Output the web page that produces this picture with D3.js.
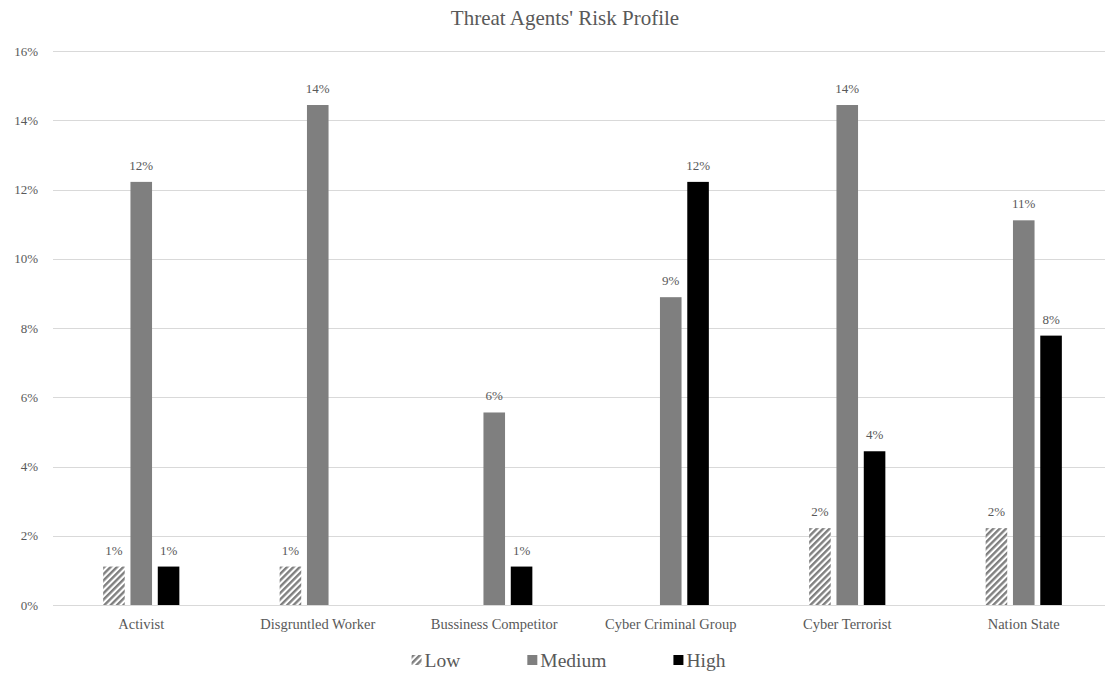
<!DOCTYPE html>
<html>
<head>
<meta charset="utf-8">
<script src="https://cdn.jsdelivr.net/npm/d3@7"></script>
<style>
  html, body { margin: 0; padding: 0; background: #fff; }
  svg { display: block; font-family: "Liberation Serif", "Times New Roman", serif; }
</style>
</head>
<body>
<svg id="chart" width="1105" height="673"></svg>
<script>
// Threat agents and the share of risk at each level
const categories = ["Activist", "Disgruntled Worker", "Bussiness Competitor", "Cyber Criminal Group", "Cyber Terrorist", "Nation State"];
const seriesNames = ["Low", "Medium", "High"];
const lowValues    = [1.11, 1.11, null, null, 2.22, 2.22];
const mediumValues = [12.22, 14.44, 5.56, 8.89, 14.44, 11.11];
const highValues   = [1.11, null, 1.11, 12.22, 4.44, 7.78];
const yTicks = [0, 2, 4, 6, 8, 10, 12, 14, 16];

const seriesValues = [lowValues, mediumValues, highValues];

const svg = d3.select("#chart");
const W = 1105, H = 673;
const textColor = "#595959";
const gridColor = "#d9d9d9";

const margin = { left: 53, right: -7, top: 51, bottom: 68 };
const plotLeft = margin.left, plotRight = W - margin.right;
const plotTop = margin.top, plotBottom = H - margin.bottom;

// Hatched fill for the Low series
const defs = svg.append("defs");
const pat = defs.append("pattern")
  .attr("id", "hatchLow")
  .attr("patternUnits", "userSpaceOnUse")
  .attr("width", 4.5).attr("height", 4.5)
  .attr("patternTransform", "rotate(45)");
pat.append("rect").attr("width", 4.5).attr("height", 4.5).attr("fill", "#ffffff");
pat.append("rect").attr("width", 2.4).attr("height", 4.5).attr("fill", "#7f7f7f");

const fills = { Low: "url(#hatchLow)", Medium: "#7f7f7f", High: "#000000" };

const x0 = d3.scaleBand().domain(categories).range([plotLeft, plotRight]).paddingInner(0).paddingOuter(0);
const groupWidth = 76.2;
const x1 = d3.scaleBand().domain(seriesNames).range([0, groupWidth]).paddingInner(0.21).paddingOuter(0);
const y = d3.scaleLinear().domain([0, 16]).range([plotBottom, plotTop]);

// Horizontal gridlines
svg.append("g")
  .selectAll("line")
  .data(yTicks.filter(t => t > 0))
  .join("line")
  .attr("x1", plotLeft).attr("x2", plotRight)
  .attr("y1", d => Math.round(y(d)) + 0.5).attr("y2", d => Math.round(y(d)) + 0.5)
  .attr("stroke", gridColor).attr("stroke-width", 1);

// Y axis labels
const yAxis = d3.axisLeft(y).tickValues(yTicks).tickFormat(d => d + "%").tickSize(0).tickPadding(15);
const yG = svg.append("g").attr("transform", `translate(${plotLeft},0)`).call(yAxis);
yG.select(".domain").remove();
yG.selectAll("text").attr("fill", textColor).style("font-size", "13px")
  .style("font-family", '"Liberation Serif", "Times New Roman", serif');

// Bars
const rows = categories.map((c, i) => ({
  category: c,
  values: seriesNames.map((s, j) => ({ series: s, value: seriesValues[j][i] }))
}));

const groups = svg.append("g").selectAll("g")
  .data(rows)
  .join("g")
  .attr("transform", d => `translate(${x0(d.category) + (x0.bandwidth() - groupWidth) / 2},0)`);

groups.selectAll("rect")
  .data(d => d.values.filter(v => v.value != null))
  .join("rect")
  .attr("x", d => x1(d.series))
  .attr("width", x1.bandwidth())
  .attr("y", d => y(d.value))
  .attr("height", d => y(0) - y(d.value))
  .attr("fill", d => fills[d.series]);

// Value labels
groups.selectAll("text")
  .data(d => d.values.filter(v => v.value != null))
  .join("text")
  .attr("x", d => x1(d.series) + x1.bandwidth() / 2)
  .attr("y", d => y(d.value) - 12)
  .attr("text-anchor", "middle")
  .attr("fill", textColor)
  .style("font-size", "13px")
  .text(d => Math.round(d.value) + "%");

// Category axis
const xAxis = d3.axisBottom(x0).tickSize(0).tickPadding(14);
const xG = svg.append("g").attr("transform", `translate(0,${plotBottom})`).call(xAxis);
xG.select(".domain").attr("stroke", gridColor).attr("d", `M${plotLeft},0.5H${plotRight}`);
xG.selectAll("text").attr("fill", textColor).style("font-size", "14.5px")
  .style("font-family", '"Liberation Serif", "Times New Roman", serif');

// Title
svg.append("text")
  .attr("x", 565).attr("y", 25)
  .attr("text-anchor", "middle")
  .attr("fill", textColor)
  .style("font-size", "21px")
  .text("Threat Agents' Risk Profile");

// Legend
const legend = svg.append("g");
const legendY = 660;
const swatch = 10, swGap = 3, itemGap = 67;
const items = legend.selectAll("g").data(seriesNames).join("g");
items.append("rect")
  .attr("width", swatch).attr("height", swatch)
  .attr("y", legendY - swatch / 2)
  .attr("fill", d => fills[d]);
items.append("text")
  .attr("x", swatch + swGap)
  .attr("y", legendY + 6.5)
  .attr("fill", textColor)
  .style("font-size", "19.5px")
  .text(d => d);
let widths = [];
items.each(function () { widths.push(swatch + swGap + d3.select(this).select("text").node().getComputedTextLength()); });
const total = d3.sum(widths) + itemGap * (widths.length - 1);
let cx = 568.5 - total / 2;
items.attr("transform", (d, i) => {
  const t = `translate(${cx},0)`;
  cx += widths[i] + itemGap;
  return t;
});
</script>
</body>
</html>
